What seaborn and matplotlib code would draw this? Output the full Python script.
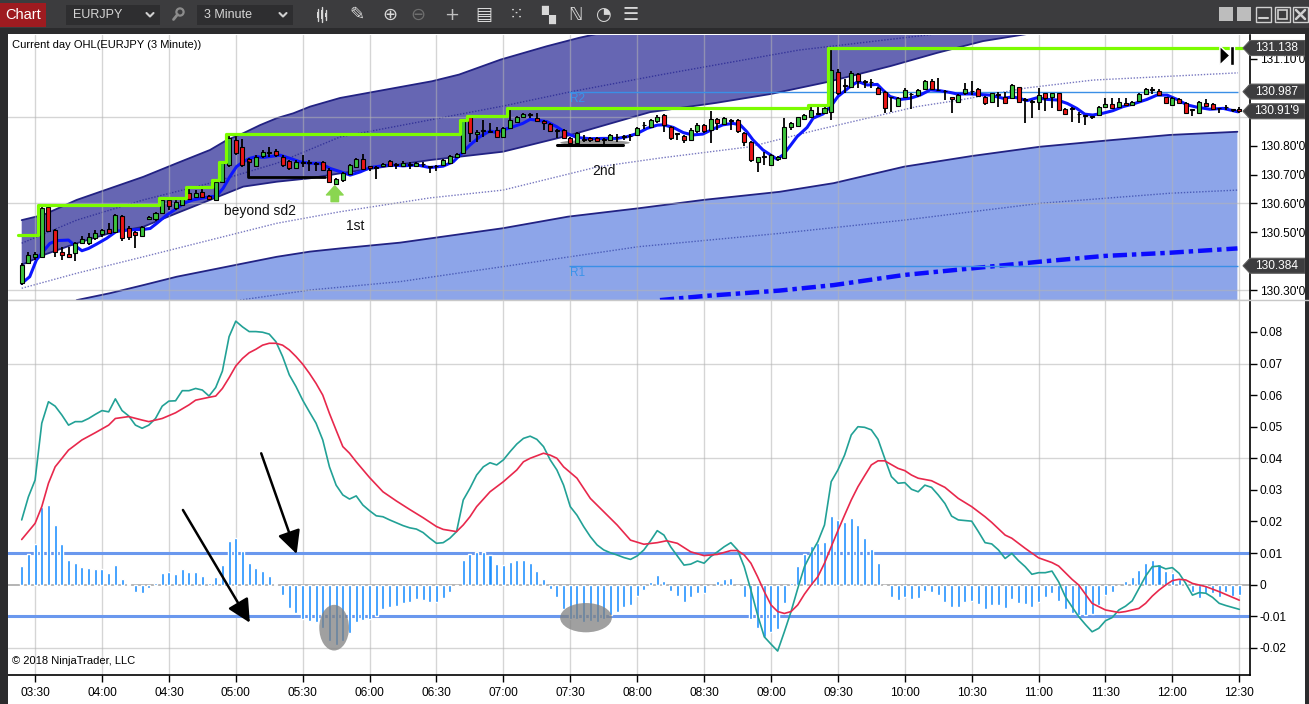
import numpy as np
import pandas as pd
import matplotlib
matplotlib.use("Agg")
import matplotlib.pyplot as plt
import matplotlib.transforms as mtransforms
from matplotlib.patches import Polygon, Ellipse, Rectangle, Circle
from matplotlib.lines import Line2D
import seaborn as sns

# ---------------- data ----------------
tick_bars = [2, 12, 22, 32, 42, 52, 62, 72, 82, 92, 102, 112, 122, 132, 142, 152, 162, 172, 182]
tick_labels = ["03:30", "04:00", "04:30", "05:00", "05:30", "06:00", "06:30", "07:00", "07:30", "08:00",
               "08:30", "09:00", "09:30", "10:00", "10:30", "11:00", "11:30", "12:00", "12:30"]

opens = [130.323,130.392,130.413,130.415,130.589,130.508,130.430,130.425,130.427,130.464,
         130.462,130.481,130.494,130.513,130.502,130.558,130.514,130.500,130.487,130.546,
         130.545,130.568,130.612,130.583,130.596,130.635,130.623,130.641,130.626,130.612,
         130.675,130.733,130.819,130.796,130.752,130.729,130.764,130.776,130.782,130.762,
         130.747,130.721,130.740,130.745,130.740,130.745,130.716,130.667,130.681,130.701,
         130.727,130.752,130.729,130.727,130.729,130.746,130.737,130.729,130.735,130.729,
         130.738,130.728,130.729,130.733,130.741,130.761,130.775,130.898,130.840,130.851,
         130.846,130.853,130.831,130.860,130.883,130.900,130.908,130.894,130.885,130.875,
         130.854,130.854,130.828,130.808,130.823,130.828,130.828,130.823,130.821,130.829,
         130.830,130.832,130.836,130.870,130.865,130.885,130.906,130.863,130.842,130.834,
         130.820,130.849,130.872,130.854,130.891,130.875,130.888,130.889,130.845,130.814,
         130.745,130.763,130.733,130.755,130.756,130.864,130.868,130.891,130.900,130.910,
         130.912,130.918,131.056,131.010,131.004,131.048,131.025,131.022,130.999,130.987,
         130.970,130.937,130.967,130.980,130.975,130.995,131.025,130.993,130.990,130.970,
         130.952,130.981,130.990,130.995,130.967,130.952,130.978,130.970,130.964,131.002,
         130.960,130.955,130.952,130.981,130.970,130.981,130.926,130.930,130.910,130.905,
         130.898,130.906,130.933,130.944,130.933,130.949,130.941,130.955,130.979,130.995,
         130.990,130.967,130.941,130.960,130.949,130.926,130.912,130.946,130.944,130.930,
         130.935,130.925,130.928]
highs = [130.393,130.430,130.433,130.594,130.592,130.510,130.450,130.450,130.465,130.487,
         130.496,130.508,130.510,130.531,130.564,130.560,130.520,130.505,130.520,130.556,
         130.571,130.620,130.617,130.612,130.620,130.658,130.646,130.649,130.629,130.681,
         130.742,130.840,130.837,130.822,130.756,130.767,130.785,130.794,130.787,130.767,
         130.750,130.750,130.767,130.750,130.745,130.748,130.721,130.687,130.710,130.738,
         130.756,130.771,130.731,130.729,130.741,130.750,130.741,130.746,130.744,130.744,
         130.744,130.729,130.733,130.755,130.767,130.776,130.889,130.902,130.854,130.888,
         130.877,130.865,130.865,130.932,130.902,130.912,130.912,130.912,130.888,130.877,
         130.856,130.856,130.831,130.848,130.836,130.831,130.830,130.825,130.840,130.840,
         130.836,130.840,130.865,130.883,130.891,130.906,130.910,130.868,130.843,130.837,
         130.860,130.877,130.875,130.921,130.895,130.898,130.891,130.891,130.848,130.817,
         130.762,130.779,130.771,130.765,130.895,130.883,130.900,130.910,130.939,130.935,
         130.935,131.138,131.064,131.030,131.059,131.050,131.027,131.030,131.004,130.990,
         130.970,130.970,130.999,130.981,130.995,131.027,131.030,131.033,130.993,130.970,
         130.979,131.016,131.025,130.998,130.972,130.983,130.987,130.987,131.013,131.004,
         130.964,130.958,130.998,130.983,130.983,130.983,130.929,130.935,130.915,130.906,
         130.903,130.937,130.964,130.964,130.964,130.964,130.955,130.981,130.998,131.004,
         130.995,130.970,130.967,130.964,130.952,130.926,130.955,130.960,130.946,130.931,
         130.941,130.926,130.933]
lows = [130.317,130.390,130.404,130.410,130.500,130.415,130.404,130.410,130.400,130.460,
        130.456,130.473,130.485,130.494,130.500,130.468,130.473,130.444,130.485,130.542,
        130.540,130.566,130.577,130.577,130.590,130.612,130.621,130.621,130.612,130.609,
        130.669,130.727,130.767,130.727,130.690,130.727,130.756,130.762,130.762,130.727,
        130.716,130.718,130.727,130.713,130.713,130.713,130.673,130.664,130.675,130.698,
        130.725,130.715,130.713,130.684,130.726,130.725,130.718,130.725,130.718,130.726,
        130.725,130.706,130.713,130.730,130.738,130.758,130.773,130.813,130.813,130.831,
        130.842,130.825,130.828,130.856,130.879,130.898,130.894,130.883,130.854,130.848,
        130.825,130.822,130.804,130.804,130.813,130.813,130.813,130.805,130.818,130.813,
        130.819,130.817,130.833,130.856,130.863,130.880,130.848,130.820,130.820,130.808,
        130.817,130.845,130.843,130.808,130.854,130.872,130.854,130.845,130.799,130.745,
        130.710,130.733,130.730,130.748,130.753,130.854,130.864,130.889,130.895,130.906,
        130.910,130.889,130.975,130.981,130.998,130.998,130.998,130.998,130.975,130.912,
        130.918,130.933,130.964,130.926,130.970,130.993,130.993,130.990,130.958,130.914,
        130.949,130.975,130.975,130.967,130.941,130.949,130.935,130.944,130.960,130.949,
        130.877,130.894,130.923,130.921,130.929,130.921,130.906,130.883,130.877,130.871,
        130.892,130.903,130.929,130.926,130.929,130.937,130.937,130.952,130.975,130.978,
        130.972,130.946,130.938,130.944,130.909,130.903,130.909,130.935,130.923,130.912,
        130.923,130.918,130.914]
closes = [130.387,130.421,130.425,130.585,130.505,130.433,130.420,130.416,130.462,130.475,
          130.485,130.496,130.508,130.496,130.560,130.479,130.485,130.490,130.517,130.552,
          130.565,130.612,130.591,130.606,130.618,130.614,130.637,130.623,130.614,130.675,
          130.739,130.825,130.773,130.733,130.745,130.759,130.779,130.779,130.766,130.733,
          130.721,130.744,130.742,130.740,130.738,130.716,130.675,130.683,130.704,130.733,
          130.752,130.718,130.724,130.724,130.738,130.729,130.734,130.741,130.733,130.741,
          130.736,130.725,130.730,130.750,130.764,130.771,130.888,130.842,130.848,130.853,
          130.850,130.831,130.860,130.888,130.900,130.909,130.906,130.886,130.879,130.852,
          130.852,130.825,130.808,130.845,130.820,130.820,130.817,130.820,130.836,130.830,
          130.832,130.834,130.860,130.872,130.888,130.900,130.872,130.825,130.840,130.820,
          130.854,130.872,130.849,130.891,130.880,130.895,130.885,130.849,130.814,130.750,
          130.760,130.760,130.768,130.760,130.863,130.877,130.898,130.906,130.923,130.912,
          130.929,131.062,130.981,131.008,131.050,131.025,131.022,131.020,130.979,130.929,
          130.968,130.964,130.994,130.978,130.993,131.025,130.995,130.991,130.988,130.960,
          130.975,130.995,130.988,130.972,130.949,130.981,130.975,130.946,131.010,130.952,
          130.958,130.952,130.975,130.964,130.981,130.923,130.910,130.928,130.908,130.903,
          130.901,130.933,130.944,130.929,130.952,130.941,130.952,130.978,130.995,130.993,
          130.975,130.949,130.964,130.946,130.912,130.924,130.952,130.937,130.926,130.929,
          130.933,130.924,130.919]

ema_x = [0.0,1.2,2.2,3.2,4.2,5.2,7.0,8.0,9.0,10.0,11.2,12.7,14.2,16.2,18.2,19.2,20.2,21.7,23.2,24.2,
         25.6,28.1,29.1,30.1,31.1,32.1,33.1,34.1,35.1,36.1,37.6,38.6,40.1,41.6,43.1,44.6,46.1,47.6,49.1,50.6,
         52.1,53.6,55.1,57.0,59.1,61.0,63.0,64.5,65.5,67.0,68.5,70.0,71.0,71.9,73.4,74.9,76.0,77.0,78.5,80.0,
         81.5,83.0,85.0,86.9,89.0,90.5,92.0,93.5,95.0,95.9,97.4,98.9,100.3,101.8,103.3,104.8,106.3,107.4,108.4,109.3,
         110.8,112.9,113.8,114.8,115.9,117.4,118.3,119.8,121.1,122.0,123.8,125.0,126.4,127.9,128.7,129.8,131.3,132.8,134.3,135.8,
         137.3,138.8,139.8,141.8,144.7,146.7,148.2,150.3,151.8,153.3,154.8,156.3,157.7,158.9,160.1,161.6,163.1,164.6,166.1,168.2,
         169.7,171.2,172.7,174.2,175.7,177.6,179.6,181.8]
ema_y = [130.323,130.346,130.404,130.433,130.461,130.471,130.473,130.453,130.436,130.444,
         130.459,130.479,130.504,130.508,130.510,130.513,130.531,130.560,130.583,130.600,
         130.612,130.623,130.625,130.652,130.692,130.727,130.744,130.756,130.762,130.759,
         130.764,130.767,130.756,130.744,130.739,130.739,130.721,130.710,130.698,130.709,
         130.724,130.729,130.733,130.730,130.733,130.724,130.729,130.744,130.767,130.802,
         130.831,130.851,130.845,130.854,130.865,130.877,130.891,130.888,130.883,130.865,
         130.842,130.828,130.824,130.825,130.825,130.831,130.842,130.860,130.871,130.872,
         130.863,130.845,130.837,130.840,130.857,130.872,130.877,130.872,130.848,130.820,
         130.785,130.753,130.768,130.797,130.831,130.863,130.895,130.910,130.941,130.970,
         131.004,131.022,131.010,131.012,130.993,130.970,130.960,130.964,130.975,130.993,
         130.990,130.984,130.979,130.979,130.975,130.964,130.969,130.956,130.966,130.960,
         130.958,130.946,130.929,130.909,130.906,130.912,130.921,130.935,130.944,130.960,
         130.975,130.975,130.960,130.941,130.933,130.926,130.929,130.917]

day_high_start = [0, 3, 21, 25, 29, 30, 31, 66, 67, 73, 118, 121]
day_high_level = [130.490, 130.594, 130.620, 130.658, 130.681, 130.742, 130.840,
                  130.889, 130.902, 130.932, 130.939, 131.138]

dark_top_x = [0,3.23,8.22,13.2,18.18,23.17,28.15,30.64,33.12,35.62,38.12,40.6,43.09,47.58,54.45,
              61.33,65.37,71.6,78.46,83.26,86.0]
dark_top_y = [130.542,130.560,130.612,130.652,130.692,130.739,130.785,130.819,130.843,130.871,
              130.895,130.912,130.935,130.965,130.994,131.023,131.046,131.098,131.144,131.173,131.187]
dark_bot_x = [0,3.23,8.22,13.2,18.18,23.17,28.15,33.12,38.12,43.09,47.58,61.03,71.94,81.9,93.92,
              103.78,112.0,120.37,129.94,136.8,143.7,151.2]
dark_bot_y = [130.387,130.421,130.462,130.497,130.519,130.566,130.612,130.658,130.675,130.687,
              130.704,130.750,130.779,130.836,130.916,130.948,130.979,131.020,131.076,131.121,131.162,131.190]
dark_mid_x = [0,8.22,18.18,28.15,38.12,47.58,61.03,71.94,81.96,95.41,116.2,136.8]
dark_mid_y = [130.462,130.542,130.612,130.670,130.739,130.830,130.889,130.937,130.986,131.045,131.131,131.187]
white_dot_x = [0,8.22,18.18,28.15,38.12,47.58,61.03,71.94,86.0,95.41,108.86,118.83,133.78,140.25,150.27,160.13,181.8]
white_dot_y = [130.306,130.358,130.415,130.473,130.531,130.571,130.619,130.646,130.726,130.757,
               130.796,130.854,130.935,130.958,131.000,131.027,131.052]
light_top_x = [8.22,13.2,18.18,23.17,28.15,33.12,38.12,43.09,47.58,56.55,71.94,81.66,92.2,101.9,
               113.26,121.36,131.88,142.02,152.15,161.87,171.59,181.72]
light_top_y = [130.265,130.289,130.317,130.346,130.369,130.392,130.415,130.433,130.444,130.464,
               130.514,130.554,130.583,130.612,130.640,130.670,130.727,130.764,130.796,130.817,130.837,130.848]
light_dot_x = [32.63,43.09,56.55,71.94,92.2,113.26,131.88,152.15,171.59,181.72]
light_dot_y = [130.265,130.300,130.329,130.381,130.450,130.496,130.542,130.600,130.635,130.646]
vwap_x = [95.41,101.9,113.26,121.36,131.88,142.02,152.15,161.87,171.59,181.72]
vwap_y = [130.265,130.279,130.298,130.317,130.352,130.375,130.398,130.418,130.429,130.444]

r2_level = 130.987
r1_level = 130.384
pivot_from_bar = 81.85
tag_prices = [131.138, 130.987, 130.919, 130.384]
tag_texts = ["131.138", "130.987", "130.91'9", "130.384"]
price_ticks = [130.3, 130.4, 130.5, 130.6, 130.7, 130.8, 130.9, 131.0, 131.1]
hidden_price_labels = [130.4, 130.9, 131.0]

macd = [0.0205,0.0278,0.0331,0.0511,0.0579,0.0565,0.0537,0.0505,0.0516,0.0516,
        0.0526,0.0539,0.0551,0.0547,0.0588,0.0551,0.0534,0.0505,0.0495,0.0505,
        0.0526,0.0565,0.0581,0.0582,0.0614,0.0614,0.0621,0.0616,0.0597,0.0624,
        0.0676,0.0785,0.0834,0.0816,0.0801,0.0801,0.0799,0.0793,0.0769,0.0722,
        0.0664,0.0627,0.0584,0.0547,0.0511,0.0458,0.0373,0.0315,0.0284,0.0271,
        0.0281,0.0252,0.0234,0.0218,0.0215,0.0205,0.0196,0.0187,0.0180,0.0176,
        0.0165,0.0147,0.0131,0.0133,0.0147,0.0168,0.0268,0.0305,0.0347,0.0373,
        0.0386,0.0379,0.0395,0.0421,0.0445,0.0463,0.0470,0.0460,0.0437,0.0395,
        0.0363,0.0315,0.0247,0.0220,0.0184,0.0152,0.0126,0.0110,0.0101,0.0094,
        0.0086,0.0080,0.0091,0.0110,0.0139,0.0171,0.0157,0.0120,0.0091,0.0062,
        0.0065,0.0075,0.0068,0.0089,0.0104,0.0120,0.0133,0.0110,0.0057,-0.0017,
        -0.0096,-0.0165,-0.0188,-0.0210,-0.0149,-0.0085,-0.0012,0.0057,0.0099,0.0136,
        0.0189,0.0326,0.0363,0.0410,0.0474,0.0500,0.0498,0.0490,0.0460,0.0400,
        0.0342,0.0321,0.0323,0.0302,0.0294,0.0315,0.0308,0.0284,0.0257,0.0217,
        0.0205,0.0203,0.0201,0.0168,0.0133,0.0129,0.0110,0.0083,0.0099,0.0076,
        0.0057,0.0033,0.0038,0.0038,0.0043,0.0009,-0.0038,-0.0070,-0.0101,-0.0126,
        -0.0149,-0.0138,-0.0114,-0.0104,-0.0080,-0.0068,-0.0051,-0.0012,0.0027,0.0057,
        0.0059,0.0050,0.0054,0.0036,0.0004,-0.0033,-0.0025,-0.0027,-0.0040,-0.0059,
        -0.0066,-0.0072,-0.0078]
sig_x = [0,2,3,4,5,7,9,11,13,14,16,18,19,21,23,25,26,28,29,30,31,32,33,34,35,36,37,38,39,40,
         41,42,43,44,45,46,47,48,49,50,52,54,56,58,60,62,63,65,66,67,68,70,72,74,75,76,78,79,80,81,
         83,85,87,89,91,93,95,96.4,98,100,102,104,106,107,108,109,110,111,112,113,114,115,116,117,118,119,120,121,122,123,
         124,125,126,127,128,129,131,132,133,134,136,138,140,142,144,145,147,148,150,152,
         154,155,157,158,160,162,164,165,167,168,169,170,171,172,173,174,175,177,179,181,182]
sig_y = [0.0143,0.0194,0.0247,0.0321,0.0373,0.0426,0.0458,0.0481,0.0505,0.0526,
         0.0532,0.0521,0.0516,0.0526,0.0544,0.0569,0.0584,0.0593,0.0597,0.0621,
         0.0655,0.0692,0.0716,0.0734,0.0745,0.0758,0.0764,0.0764,0.0758,0.0743,
         0.0722,0.0698,0.0669,0.0637,0.0600,0.0542,0.0489,0.0437,0.0416,0.0389,
         0.0339,0.0294,0.0265,0.0238,0.0212,0.0184,0.0175,0.0168,0.0189,0.0215,
         0.0247,0.0294,0.0326,0.0363,0.0389,0.0400,0.0416,0.0410,0.0400,0.0373,
         0.0337,0.0273,0.0231,0.0189,0.0141,0.0128,0.0133,0.0139,0.0131,0.0104,
         0.0092,0.0096,0.0108,0.0108,0.0094,0.0068,0.0025,-0.0022,-0.0064,-0.0085,
         -0.0091,-0.0085,-0.0064,-0.0030,-0.0001,0.0025,0.0068,0.0120,0.0171,0.0220,
         0.0268,0.0310,0.0345,0.0379,0.0392,0.0392,0.0368,0.0361,0.0347,0.0337,
         0.0329,0.0308,0.0273,0.0247,0.0215,0.0197,0.0157,0.0147,0.0115,0.0085,
         0.0070,0.0059,0.0017,-0.0001,-0.0059,-0.0080,-0.0088,-0.0085,-0.0075,-0.0059,
         -0.0036,-0.0017,-0.0001,0.0013,0.0017,0.0015,0.0004,-0.0006,-0.0022,-0.0040,
         -0.0049]
hist = [0.0059,0.0097,0.0129,0.0245,0.0252,0.0189,0.0129,0.0078,0.0068,0.0057,
        0.0053,0.0050,0.0050,0.0036,0.0062,0.0018,0.0002,-0.0022,-0.0025,-0.0010,
        0.0006,0.0036,0.0039,0.0034,0.0050,0.0040,0.0040,0.0027,0.0006,0.0024,
        0.0061,0.0138,0.0148,0.0107,0.0069,0.0053,0.0043,0.0027,0.0002,-0.0032,
        -0.0073,-0.0091,-0.0107,-0.0114,-0.0117,-0.0138,-0.0177,-0.0191,-0.0177,-0.0152,
        -0.0117,-0.0112,-0.0107,-0.0098,-0.0078,-0.0072,-0.0066,-0.0059,-0.0054,-0.0046,
        -0.0049,-0.0054,-0.0054,-0.0041,-0.0022,-0.0003,0.0078,0.0097,0.0102,0.0102,
        0.0094,0.0065,0.0062,0.0072,0.0078,0.0078,0.0068,0.0043,0.0018,-0.0015,
        -0.0040,-0.0077,-0.0110,-0.0107,-0.0117,-0.0114,-0.0117,-0.0107,-0.0096,-0.0085,
        -0.0072,-0.0063,-0.0036,-0.0017,0.0008,0.0031,0.0012,-0.0019,-0.0035,-0.0054,
        -0.0040,-0.0025,-0.0025,0.0000,0.0012,0.0018,0.0021,-0.0003,-0.0040,-0.0107,
        -0.0136,-0.0165,-0.0149,-0.0140,-0.0057,0.0006,0.0059,0.0097,0.0122,0.0131,
        0.0135,0.0217,0.0205,0.0199,0.0210,0.0189,0.0147,0.0113,0.0068,-0.0003,
        -0.0040,-0.0049,-0.0038,-0.0046,-0.0043,-0.0019,-0.0022,-0.0034,-0.0056,-0.0072,
        -0.0070,-0.0056,-0.0051,-0.0062,-0.0078,-0.0065,-0.0065,-0.0075,-0.0046,-0.0059,
        -0.0062,-0.0070,-0.0054,-0.0040,-0.0027,-0.0053,-0.0078,-0.0091,-0.0096,-0.0096,
        -0.0094,-0.0064,-0.0033,-0.0022,0.0000,0.0012,0.0025,0.0046,0.0068,0.0078,
        0.0065,0.0043,0.0036,0.0017,0.0004,-0.0022,-0.0041,-0.0027,-0.0025,-0.0038,
        -0.0022,-0.0036,-0.0033]
osc_ticks = [-0.02, -0.01, 0.0, 0.01, 0.02, 0.03, 0.04, 0.05, 0.06, 0.07, 0.08]
osc_levels = [0.01, -0.01]

# ---------------- style / layout ----------------
sns.set_theme(style="white")
plt.rcParams['font.family'] = ['Liberation Sans', 'DejaVu Sans']

W, H = 1309, 704
fig = plt.figure(figsize=(W / 100, H / 100), dpi=100)
fig.patch.set_facecolor('white')


def rect(x0, y0, x1, y1):
    return [x0 / W, 1 - y1 / H, (x1 - x0) / W, (y1 - y0) / H]


ax1 = fig.add_axes(rect(8, 35, 1250, 300))
ax2 = fig.add_axes(rect(8, 301, 1250, 675))
X0, DX = 21.7, 6.69
XLIM = ((8 - X0) / DX, (1250 - X0) / DX)
YLIM1 = (130.2654, 131.1831)
YLIM2 = (-0.02858, 0.08978)

DARK_BAND = '#6666b3'
LIGHT_BAND = '#8da5e9'
EDGE = '#222283'
GRID = '#b4b4b4'

n = len(closes)
idx = np.arange(n)
o, h, l, c = map(np.array, (opens, highs, lows, closes))

# ---- bands ----
ytop_fill = YLIM1[1] + 0.05
ybot_fill = YLIM1[0] - 0.05
dark_poly = list(zip(dark_top_x, dark_top_y)) + [(dark_top_x[-1], ytop_fill), (dark_bot_x[-1], ytop_fill)] + \
    list(zip(dark_bot_x[::-1], dark_bot_y[::-1]))
ax1.add_patch(Polygon(dark_poly, closed=True, fc=DARK_BAND, ec='none', zorder=1))
light_poly = list(zip(light_top_x, light_top_y)) + [(light_top_x[-1], ybot_fill), (light_top_x[0], ybot_fill)]
ax1.add_patch(Polygon(light_poly, closed=True, fc=LIGHT_BAND, ec='none', zorder=1))
for xs, ys in [(dark_top_x, dark_top_y), (dark_bot_x, dark_bot_y), (light_top_x, light_top_y)]:
    ax1.plot(xs, ys, color=EDGE, lw=1.3, zorder=1.4)
ax1.plot(dark_mid_x, dark_mid_y, color='#34349a', lw=1.0, ls=(0, (1, 1.2)), zorder=1.4)
ax1.plot(white_dot_x, white_dot_y, color='#7878c0', lw=1.0, ls=(0, (1, 1.2)), zorder=1.4)
ax1.plot(light_dot_x, light_dot_y, color='#4a5cb8', lw=1.0, ls=(0, (1, 1.2)), zorder=1.4)

# ---- grid ----
for b in tick_bars:
    ax1.axvline(b, color=GRID, lw=1, alpha=0.55, zorder=1.6)
    ax2.axvline(b, color=GRID, lw=1, alpha=0.55, zorder=1)
for p in [130.3, 130.6, 130.9]:
    ax1.axhline(p, color=GRID, lw=1, alpha=0.55, zorder=1.6)
for v in [0.07, 0.04, 0.01, -0.02]:
    ax2.axhline(v, color=GRID, lw=1, alpha=0.55, zorder=1)

# ---- VWAP / pivots ----
sns.lineplot(x=vwap_x, y=vwap_y, ax=ax1, color='#0a0aff', lw=3.2, sort=False, estimator=None,
             legend=False, zorder=2)
ax1.lines[-1].set_linestyle((0, (3.2, 1.1, 1.0, 1.1)))
ax1.hlines([r2_level, r1_level], pivot_from_bar, 181.8, color='#3a8fe6', lw=1.0, zorder=2)
ax1.text(pivot_from_bar + 0.1, r2_level - 0.005, "R2", color='#3a93ea', fontsize=8.5, va='top', ha='left', zorder=2)
ax1.text(pivot_from_bar + 0.1, r1_level - 0.005, "R1", color='#3a93ea', fontsize=8.5, va='top', ha='left', zorder=2)

# ---- annotation under 2nd ----
ax1.add_patch(Ellipse((85.7, 130.810), 10.4, 0.019, fc='#8c8c8c', ec='none', alpha=0.9, zorder=3.5))

# ---- EMA ----
sns.lineplot(x=ema_x, y=ema_y, ax=ax1, color='#0c16ff', lw=2.2, sort=False, estimator=None,
             legend=False, zorder=3)

# ---- candles ----
body_bottom = np.minimum(o, c)
body_h = np.maximum(np.abs(c - o), 0.0012)
cols = np.where(c > o + 0.0005, '#3cc43c', np.where(c < o - 0.0005, '#ec1616', 'black'))
ax1.vlines(idx, l, h, color='black', lw=1.3, zorder=4)
ax1.bar(idx, body_h, bottom=body_bottom, width=0.6, color=cols, edgecolor='black', linewidth=0.8, zorder=4.5)

# ---- current-day high ----
step_x = [s - 0.5 for s in day_high_start] + [n - 0.5]
step_y = day_high_level + [day_high_level[-1]]
ax1.step(step_x, step_y, where='post', color='#7cfc00', lw=2.3, zorder=5)

# ---- annotations (upper) ----
ax1.plot([33.87, 33.87, 45.33], [130.744, 130.690, 130.690], color='black', lw=2.0, zorder=6)
ax1.plot([80.0, 89.9], [130.801, 130.801], color='black', lw=2.2, zorder=6)
ax1.annotate('', xy=(46.8, 130.661), xytext=(46.8, 130.606),
             arrowprops=dict(arrowstyle='simple,head_length=0.55,head_width=1.0,tail_width=0.45',
                             fc='#8ad650', ec='#8ad650', mutation_scale=12, shrinkA=0, shrinkB=0), zorder=6)
ax1.text(35.6, 130.574, "beyond sd2", fontsize=10, ha='center', va='center', color='#111111', zorder=6)
ax1.text(49.8, 130.522, "1st", fontsize=10, ha='center', va='center', color='#111111', zorder=6)
ax1.text(87.0, 130.712, "2nd", fontsize=10, ha='center', va='center', color='#111111', zorder=6)
ax1.text(0.0032, 0.962, "Current day OHL(EURJPY (3 Minute))", transform=ax1.transAxes, fontsize=8,
         va='center', ha='left', color='black', zorder=6)
# end-of-range marker
ax1.add_patch(Polygon([(179.1, 131.145), (179.1, 131.079), (180.6, 131.112)], closed=True, fc='black', zorder=7))
ax1.add_patch(Rectangle((180.6, 131.079), 0.6, 0.066, fc='black', zorder=7))

# ---- lower panel ----
ax2.bar(idx, hist, width=0.45, color='#1e90ff', zorder=3)
ax2.axhline(0, color='#a8a8a8', lw=1.2, zorder=2)
for v in osc_levels:
    ax2.axhline(v, color='#6a98ee', lw=2.2, zorder=2.5)
sns.lineplot(x=idx, y=macd, ax=ax2, color='#22a196', lw=1.2, sort=False, estimator=None, legend=False, zorder=4)
sns.lineplot(x=sig_x, y=sig_y, ax=ax2, color='#e8284c', lw=1.2, sort=False, estimator=None, legend=False, zorder=4)
ax2.add_patch(Ellipse((46.7, -0.0136), 4.44, 0.01446, fc='#808080', ec='none', alpha=0.75, zorder=5))
ax2.add_patch(Ellipse((84.35, -0.01044), 7.73, 0.00927, fc='#808080', ec='none', alpha=0.75, zorder=5))
for (x0, y0, x1, y1) in [(24.1, 0.02364, 34.1, -0.01203), (35.8, 0.04158, 41.1, 0.00972)]:
    ax2.annotate('', xy=(x1, y1), xytext=(x0, y0),
                 arrowprops=dict(arrowstyle='-|>,head_length=0.7,head_width=0.35', color='black', lw=1.8,
                                 mutation_scale=20, shrinkA=0, shrinkB=0), zorder=6)
ax2.text(0.0032, 0.0374, "\u00a9 2018 NinjaTrader, LLC", transform=ax2.transAxes, fontsize=8,
         va='center', ha='left', color='black', zorder=6)

# ---- axes formatting ----
for ax, yl in [(ax1, YLIM1), (ax2, YLIM2)]:
    ax.set_xlim(*XLIM)
    ax.set_ylim(*yl)
    ax.set_xlabel('')
    ax.set_ylabel('')
    ax.set_facecolor('white')
    ax.grid(False)
    ax.spines['left'].set_visible(False)
    ax.spines['top'].set_visible(False)
    ax.spines['right'].set_color('black')
    ax.spines['right'].set_linewidth(1.2)
    ax.yaxis.tick_right()
    ax.tick_params(axis='y', which='both', right=True, left=False, labelright=True, labelleft=False,
                   direction='out', length=5, width=1, colors='black', labelsize=8.6, pad=2)
ax1.spines['bottom'].set_color('#c8c8c8')
ax1.spines['bottom'].set_linewidth(1)
ax2.spines['bottom'].set_color('black')
ax2.spines['bottom'].set_linewidth(1.2)

ax1.set_yticks(price_ticks)
ax1.set_yticklabels(['' if any(abs(p - q) < 1e-6 for q in hidden_price_labels) else f"{p:.2f}'0"
                     for p in price_ticks])
ax1.set_xticks(tick_bars)
ax1.tick_params(axis='x', bottom=False, labelbottom=False)
ax2.set_yticks(osc_ticks)
ax2.set_yticklabels(['0' if abs(v) < 1e-9 else f"{v:.2f}" for v in osc_ticks])
ax2.set_xticks(tick_bars)
ax2.set_xticklabels(tick_labels)
ax2.tick_params(axis='x', bottom=True, direction='out', length=5, width=1, colors='black',
                labelsize=8.6, pad=3.5)

# ---- price tags on the right axis ----
trans = mtransforms.blended_transform_factory(ax1.transAxes, ax1.transData)
xt = (1243 - 8) / 1242
xb = (1250 - 8) / 1242
xe = (1305 - 8) / 1242
hh = 7.5 / 288.75
for p, t in zip(tag_prices, tag_texts):
    ax1.add_patch(Polygon([(xt, p), (xb, p + hh), (xe, p + hh), (xe, p - hh), (xb, p - hh)], closed=True,
                          transform=trans, clip_on=False, fc='#3d3d3f', ec='#5c5c5c', lw=0.8, zorder=20))
    ax1.text((1277 - 8) / 1242, p, t, transform=trans, color='white', fontsize=8.6, ha='center',
             va='center', clip_on=False, zorder=21)

# ---- frame / separator ----
fig.add_artist(Line2D([8 / W, 1], [1 - 300.5 / H] * 2, color='#c8c8c8', lw=1))
fig.add_artist(Rectangle((0, 0), 7.5 / W, 1 - 28 / H, transform=fig.transFigure, fc='#2b2b2d', ec='none'))
fig.add_artist(Rectangle((1305 / W, 0), 4 / W, 1 - 28 / H, transform=fig.transFigure, fc='#2b2b2d', ec='none'))

# ---- toolbar ----
axT = fig.add_axes([0, 1 - 34 / H, 1, 34 / H])
axT.set_xlim(0, W)
axT.set_ylim(34, 0)
axT.axis('off')
axT.add_patch(Rectangle((0, 0), W, 28, fc='#3c3c3e', ec='none'))
axT.add_patch(Rectangle((0, 28), W, 6, fc='#2b2b2d', ec='none'))
axT.add_patch(Rectangle((0, 3), 46, 24, fc='#9e1b20', ec='none'))
axT.text(23, 15, "Chart", color='white', fontsize=10.5, ha='center', va='center')
for (bx, bw, label) in [(66, 94, "EURJPY"), (197, 96, "3 Minute")]:
    axT.add_patch(Rectangle((bx, 5), bw, 20, fc='#2e2e30', ec='none'))
    axT.text(bx + 7, 15.5, label, color='#d6d6d6', fontsize=9, ha='left', va='center')
    cx = bx + bw - 10
    axT.plot([cx - 3.5, cx, cx + 3.5], [13, 16.5, 13], color='#d0d0d0', lw=1.5)
axT.add_patch(Circle((180, 12), 3.6, fc='none', ec='#8c8c8c', lw=1.6))
axT.plot([177.5, 173.5], [14.5, 19.5], color='#8c8c8c', lw=2)
# candlestick icon
for dx, (y0, y1) in zip([-4, 0, 4], [(9, 21), (7, 22), (10, 20)]):
    axT.plot([322 + dx, 322 + dx], [y0, y1], color='#d8d8d8', lw=1)
    axT.add_patch(Rectangle((321 + dx, y0 + 3), 2, y1 - y0 - 6, fc='#d8d8d8', ec='none'))
icons = [(357, "\u270e", '#d8d8d8'), (390, "\u2295", '#d8d8d8'), (418, "\u2296", '#6e6e6e'),
         (452, "+", '#bfbfbf'), (484, "\u25a4", '#d8d8d8'), (516, "\u2059", '#d8d8d8'),
         (548, "\u259a", '#d8d8d8'), (575, "\u2115", '#d8d8d8'), (603, "\u25d4", '#d8d8d8'),
         (631, "\u2630", '#d8d8d8')]
for x, g, col in icons:
    axT.text(x, 15, g, color=col, fontsize=13, ha='center', va='center', family=['DejaVu Sans'])
for x in [1219, 1237]:
    axT.add_patch(Rectangle((x, 7), 14, 14, fc='#bdbdbd', ec='none'))
for x in [1256, 1275, 1293]:
    axT.add_patch(Rectangle((x, 7), 15, 15, fc='none', ec='#d0d0d0', lw=1))
axT.plot([1259, 1268], [18, 18], color='#d0d0d0', lw=1.5)
axT.add_patch(Rectangle((1278, 10), 9, 9, fc='none', ec='#d0d0d0', lw=1.2))
axT.plot([1296, 1305], [10, 19], color='#d0d0d0', lw=1.8)
axT.plot([1296, 1305], [19, 10], color='#d0d0d0', lw=1.8)

fig.savefig("out.png", dpi=100, facecolor='white')
